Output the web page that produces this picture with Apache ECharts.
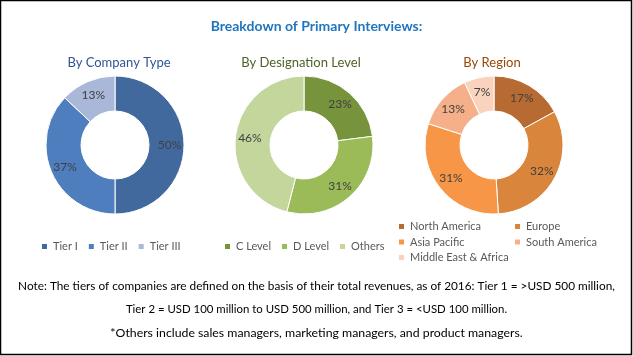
<!DOCTYPE html>
<html><head><meta charset="utf-8">
<script src="https://cdn.jsdelivr.net/npm/echarts@6/dist/echarts.min.js"></script>
<style>html,body{margin:0;padding:0;background:#fff}#c{width:633px;height:356px}</style>
</head><body><div id="c"></div>
<script>
const companyCats = ['Tier I', 'Tier II', 'Tier III'];
const companyVals = [50, 37, 13];
const designationCats = ['C Level', 'D Level', 'Others'];
const designationVals = [23, 31, 46];
const regionCats = ['North America', 'Europe', 'Asia Pacific', 'South America', 'Middle East & Africa'];
const regionVals = [17, 32, 31, 13, 7];
const companyColors = ['#41699E', '#4E7EBE', '#A9B8D8'];
const designationColors = ['#77933C', '#9BBB59', '#C3D69B'];
const regionColors = ['#B76B33', '#DA853C', '#F79646', '#F5B08A', '#F9D3BE'];
const noteLines = [
  'Note: The tiers of companies are defined on the basis of their total revenues, as of 2016: Tier 1 = >USD 500 million,',
  'Tier 2 = USD 100 million to USD 500 million, and Tier 3 = <USD 100 million.',
  '*Others include sales managers, marketing managers, and product managers.'
];
const FONT = 'Lato';
const chart = echarts.init(document.getElementById('c'));
function pieSeries(name, cats, vals, colors, cx) {
  return {
    type: 'pie', name: name, center: [cx, 145], radius: [34, 69],
    startAngle: 90, clockwise: true,
    data: cats.map((c, i) => ({ name: c, value: vals[i], itemStyle: { color: colors[i] } })),
    itemStyle: { borderColor: '#fff', borderWidth: 1 },
    label: { show: true, position: 'inside', formatter: '{c}%', color: '#404040', fontSize: 12, fontFamily: FONT },
    labelLine: { show: false },
    emphasis: { disabled: true }, animation: false
  };
}
const legendText = { color: '#595959', fontSize: 11, fontFamily: FONT };
const noteSizes = [11.8, 11.4, 12.3];
chart.setOption({
  animation: false,
  title: [
    { text: 'Breakdown of Primary Interviews:', left: 'center', top: 14, textStyle: { color: '#1F75BE', fontSize: 14, fontWeight: 'bold', fontFamily: FONT } },
    { text: 'By Company Type', left: 114, textAlign: 'center', top: 51, textStyle: { color: '#2F5597', fontSize: 13, fontWeight: 'normal', fontFamily: FONT } },
    { text: 'By Designation Level', left: 296, textAlign: 'center', top: 51, textStyle: { color: '#4F6228', fontSize: 13, fontWeight: 'normal', fontFamily: FONT } },
    { text: 'By Region', left: 487, textAlign: 'center', top: 51, textStyle: { color: '#984807', fontSize: 13, fontWeight: 'normal', fontFamily: FONT } }
  ],
  legend: [
    { data: companyCats, left: 35, top: 236, itemWidth: 7, itemHeight: 7, itemGap: 9, icon: 'rect', textStyle: legendText, selectedMode: false },
    { data: designationCats, left: 218, top: 236, itemWidth: 7, itemHeight: 7, itemGap: 9, icon: 'rect', textStyle: legendText, selectedMode: false },
    { data: [regionCats[0], regionCats[2], regionCats[4]], orient: 'vertical', left: 392, top: 216, itemWidth: 7, itemHeight: 7, itemGap: 4.5, icon: 'rect', textStyle: legendText, selectedMode: false },
    { data: [regionCats[1], regionCats[3]], orient: 'vertical', left: 508, top: 216, itemWidth: 7, itemHeight: 7, itemGap: 4.5, icon: 'rect', textStyle: legendText, selectedMode: false }
  ],
  series: [
    pieSeries('company', companyCats, companyVals, companyColors, 115),
    pieSeries('designation', designationCats, designationVals, designationColors, 304),
    pieSeries('region', regionCats, regionVals, regionColors, 494)
  ],
  graphic: [
    { type: 'rect', shape: { x: 0.5, y: 0.5, width: 631, height: 354 }, style: { fill: 'none', stroke: '#000', lineWidth: 1.5 }, silent: true },
    ...noteLines.map((t, i) => ({
      type: 'text', left: 'center', top: [280, 304, 327][i],
      style: { text: t, fill: '#000', fontSize: noteSizes[i], fontFamily: FONT }
    }))
  ]
});
</script></body></html>
